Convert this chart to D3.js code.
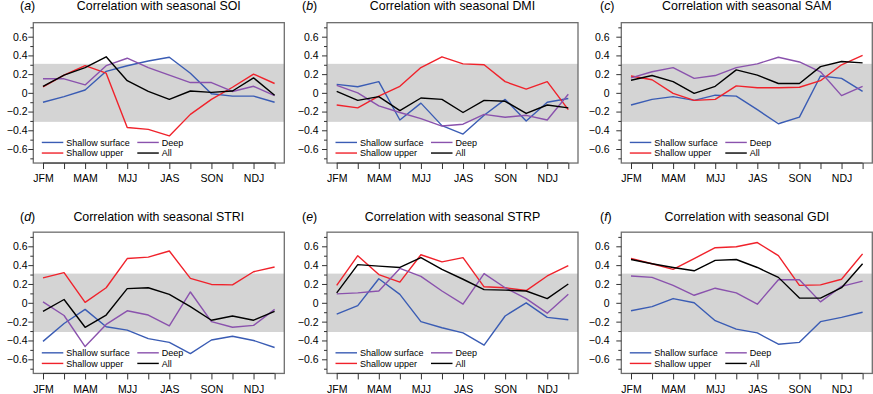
<!DOCTYPE html>
<html lang="en">
<head>
    <meta charset="UTF-8">
    <title>Seasonal correlations</title>
    <style>
        body { margin: 0; background: #fff; }
        svg { display: block; font-family: "Liberation Sans", Arial, Helvetica, sans-serif; }
    </style>
</head>
<body>
    <div id="graphic"></div>

    <script src="https://cdn.jsdelivr.net/npm/d3@7"></script>
    <script>
        // seasons on the x axis, only every other one gets a label
        var seasons = ['JFM', 'FMA', 'MAM', 'AMJ', 'MJJ', 'JJA', 'JAS', 'ASO', 'SON', 'OND', 'NDJ', 'DJF'];
        var seriesNames = ['Shallow surface', 'Shallow upper', 'Deep', 'All'];
        var panelLetters = ['a', 'b', 'c', 'd', 'e', 'f'];
        var panelIndices = ['SOI', 'DMI', 'SAM', 'STRI', 'STRP', 'GDI'];
        var yLabelTicks = [-0.6, -0.4, -0.2, 0, 0.2, 0.4, 0.6];
        var yMinorTicks = [-0.7, -0.5, -0.3, -0.1, 0.1, 0.3, 0.5, 0.7];
        var bandLimit = 0.31;

        // (a) SOI
        var soiSurface = [-0.10, -0.04, 0.03, 0.23, 0.29, 0.34, 0.38, 0.21, -0.01, -0.035, -0.035, -0.10];
        var soiUpper   = [0.065, 0.19, 0.29, 0.21, -0.37, -0.39, -0.46, -0.23, -0.07, 0.06, 0.20, 0.10];
        var soiDeep    = [0.15, 0.15, 0.085, 0.29, 0.37, 0.27, 0.19, 0.11, 0.11, 0.015, 0.07, -0.03];
        var soiAll     = [0.07, 0.19, 0.27, 0.385, 0.13, 0.015, -0.07, 0.02, 0.005, 0.02, 0.16, -0.025];
        // (b) DMI
        var dmiSurface = [0.09, 0.065, 0.12, -0.29, -0.11, -0.35, -0.44, -0.24, -0.07, -0.30, -0.10, -0.06];
        var dmiUpper   = [-0.13, -0.16, -0.035, 0.07, 0.27, 0.385, 0.31, 0.30, 0.12, 0.04, 0.12, -0.18];
        var dmiDeep    = [0.08, 0.0, -0.14, -0.21, -0.275, -0.355, -0.335, -0.23, -0.26, -0.24, -0.29, -0.015];
        var dmiAll     = [0.015, -0.08, -0.04, -0.19, -0.055, -0.07, -0.21, -0.08, -0.09, -0.22, -0.13, -0.16];
        // (c) SAM
        var samSurface = [-0.13, -0.07, -0.04, -0.08, -0.025, -0.035, -0.18, -0.33, -0.26, 0.18, 0.155, 0.015];
        var samUpper   = [0.18, 0.14, -0.005, -0.08, -0.07, 0.075, 0.055, 0.055, 0.06, 0.13, 0.30, 0.40];
        var samDeep    = [0.16, 0.225, 0.27, 0.155, 0.185, 0.27, 0.31, 0.38, 0.33, 0.225, -0.03, 0.07];
        var samAll     = [0.135, 0.185, 0.12, -0.005, 0.07, 0.245, 0.19, 0.10, 0.10, 0.28, 0.335, 0.32];
        // (d) STRI
        var striSurface = [-0.41, -0.22, -0.07, -0.255, -0.29, -0.38, -0.42, -0.54, -0.395, -0.355, -0.40, -0.475];
        var striUpper   = [0.265, 0.32, 0.005, 0.16, 0.47, 0.485, 0.55, 0.26, 0.195, 0.19, 0.33, 0.38];
        var striDeep    = [0.01, -0.135, -0.465, -0.23, -0.085, -0.13, -0.245, 0.115, -0.20, -0.26, -0.24, -0.07];
        var striAll     = [-0.09, 0.035, -0.26, -0.13, 0.15, 0.16, 0.09, -0.04, -0.185, -0.14, -0.185, -0.09];
        // (e) STRP
        var strpSurface = [-0.12, -0.03, 0.255, 0.09, -0.20, -0.265, -0.32, -0.45, -0.14, 0.0, -0.155, -0.18];
        var strpUpper   = [0.185, 0.50, 0.30, 0.22, 0.51, 0.435, 0.48, 0.17, 0.16, 0.13, 0.285, 0.395];
        var strpDeep    = [0.095, 0.105, 0.125, 0.365, 0.28, 0.125, -0.015, 0.31, 0.16, 0.045, -0.11, 0.09];
        var strpAll     = [0.105, 0.405, 0.39, 0.375, 0.48, 0.355, 0.25, 0.14, 0.135, 0.125, 0.045, 0.20];
        // (f) GDI
        var gdiSurface = [-0.085, -0.04, 0.045, 0.0, -0.19, -0.28, -0.32, -0.44, -0.42, -0.20, -0.155, -0.10];
        var gdiUpper   = [0.47, 0.415, 0.355, 0.47, 0.585, 0.595, 0.64, 0.50, 0.185, 0.19, 0.25, 0.52];
        var gdiDeep    = [0.285, 0.27, 0.185, 0.08, 0.155, 0.105, -0.015, 0.245, 0.245, 0.01, 0.175, 0.23];
        var gdiAll     = [0.46, 0.415, 0.375, 0.34, 0.45, 0.46, 0.375, 0.27, 0.05, 0.05, 0.16, 0.415];

        var panelData = [
            [soiSurface, soiUpper, soiDeep, soiAll],
            [dmiSurface, dmiUpper, dmiDeep, dmiAll],
            [samSurface, samUpper, samDeep, samAll],
            [striSurface, striUpper, striDeep, striAll],
            [strpSurface, strpUpper, strpDeep, strpAll],
            [gdiSurface, gdiUpper, gdiDeep, gdiAll]
        ];

        var colors = ['#3a5cb4', '#f0222b', '#8a52ad', '#000000'];

        // layout
        var width = 873, height = 394;
        var colLeft = [33.3, 327, 621.3];
        var boxW = 251;
        var yLabelRight = [27.5, 318.5, 609.5];
        var letterX = [20, 302, 600];
        var rowTop = [36.7, 246.3];      // pixel of +0.6
        var rowBottom = [149, 359.3];    // pixel of -0.6
        var titleY = [10, 220.5];

        var svg = d3.select('#graphic')
            .append('svg')
            .attr('width', width)
            .attr('height', height);

        var fmt = function(v) {
            if (Math.abs(v) < 1e-9) return '0';
            return (v < 0 ? '\u2212' : '') + Math.abs(v).toFixed(1);
        };

        panelData.forEach(function(series, i) {
            var col = i % 3, row = Math.floor(i / 3);
            var L = colLeft[col];

            var y = d3.scaleLinear().domain([-0.6, 0.6]).range([rowBottom[row], rowTop[row]]);
            var x = d3.scalePoint().domain(seasons).range([L + 9.7, L + boxW - 9.7]);
            var boxTop = y(0.75), boxBottom = y(-0.75);

            var g = svg.append('g');

            // grey band = not significant
            g.append('rect')
                .attr('x', L)
                .attr('width', boxW)
                .attr('y', y(bandLimit))
                .attr('height', y(-bandLimit) - y(bandLimit))
                .attr('fill', '#d4d4d4');

            var line = d3.line()
                .x(function(d, j) { return x(seasons[j]); })
                .y(function(d) { return y(d); });

            series.forEach(function(values, k) {
                g.append('path')
                    .datum(values)
                    .attr('d', line)
                    .attr('fill', 'none')
                    .attr('stroke', colors[k])
                    .attr('stroke-width', 1.4)
                    .attr('stroke-linejoin', 'round');
            });

            // box
            g.append('rect')
                .attr('x', L)
                .attr('y', boxTop)
                .attr('width', boxW)
                .attr('height', boxBottom - boxTop)
                .attr('fill', 'none')
                .attr('stroke', '#6e6e6e')
                .attr('stroke-width', 1.3);

            // y axis: minor ticks then labelled ones
            var yMinor = g.append('g')
                .attr('transform', 'translate(' + L + ',0)')
                .call(d3.axisLeft(y).tickValues(yMinorTicks).tickSize(3).tickFormat(''));
            var yMajor = g.append('g')
                .attr('transform', 'translate(' + L + ',0)')
                .call(d3.axisLeft(y).tickValues(yLabelTicks).tickSize(5).tickFormat(fmt));
            [yMinor, yMajor].forEach(function(a) {
                a.select('.domain').remove();
                a.selectAll('line').attr('stroke', '#333');
            });
            yMajor.selectAll('text')
                .attr('x', yLabelRight[col] - L)
                .attr('font-size', '10.5px')
                .attr('font-family', '"Liberation Sans", Arial, sans-serif')
                .attr('fill', '#000');

            // x axis
            var xAxis = g.append('g')
                .attr('transform', 'translate(0,' + boxBottom + ')')
                .call(d3.axisBottom(x).tickSize(6).tickPadding(6)
                    .tickFormat(function(d, j) { return j % 2 === 0 ? d : ''; }));
            xAxis.select('.domain').attr('stroke', '#333')
                .attr('d', 'M' + x(seasons[0]) + ',0H' + x(seasons[seasons.length - 1]));
            xAxis.selectAll('line').attr('stroke', '#333');
            xAxis.selectAll('text')
                .attr('font-size', '10.5px')
                .attr('font-family', '"Liberation Sans", Arial, sans-serif')
                .attr('fill', '#000');

            // title
            g.append('text')
                .attr('x', L + boxW / 2)
                .attr('y', titleY[row])
                .attr('text-anchor', 'middle')
                .attr('font-size', '12.4px')
                .text('Correlation with seasonal ' + panelIndices[i]);
            var lt = g.append('text')
                .attr('x', letterX[col])
                .attr('y', titleY[row])
                .attr('font-size', '12.4px');
            lt.append('tspan').text('(');
            lt.append('tspan').attr('font-style', 'italic').text(panelLetters[i]);
            lt.append('tspan').text(')');

            // legend: surface/upper in the first column, deep/all in the second
            seriesNames.forEach(function(name, k) {
                var lx = L + (k < 2 ? 8.5 : 104);
                var ly = boxBottom - (k % 2 === 0 ? 20.6 : 10);
                g.append('line')
                    .attr('x1', lx).attr('x2', lx + 21.5)
                    .attr('y1', ly).attr('y2', ly)
                    .attr('stroke', colors[k])
                    .attr('stroke-width', 1.4);
                g.append('text')
                    .attr('x', lx + 24.5)
                    .attr('y', ly + 3.2)
                    .attr('font-size', '9px')
                    .text(name);
            });
        });
    </script>
</body>
</html>
